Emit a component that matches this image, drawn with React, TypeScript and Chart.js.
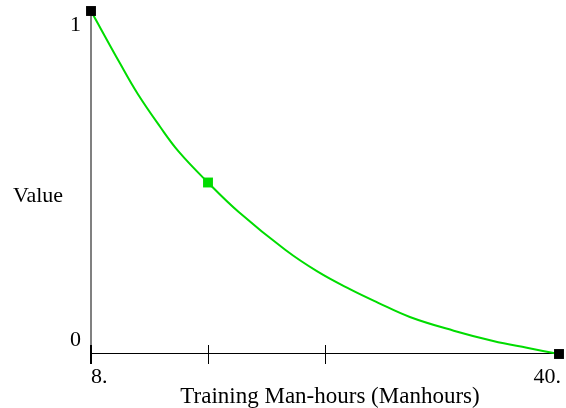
import React, { useEffect, useRef } from "react";
import { Chart, registerables } from "chart.js";

Chart.register(...registerables);

const curveX = [8, 10, 11.2, 12.7, 14, 16, 18.1, 21.3, 23.5, 25.7, 27.6, 29.8, 32.8, 35.5, 37.8, 40];
const curveY = [1, 0.846, 0.758, 0.664, 0.59, 0.5, 0.414, 0.303, 0.24, 0.189, 0.15, 0.108, 0.068, 0.038, 0.018, 0];

const markerX = [8, 16, 40];
const markerY = [1, 0.5, 0];
const markerColors = ["#000000", "#00dc00", "#000000"];

const xTickValues = [8, 16, 24];
const xLabelValues = [8, 40];
const xLabelTexts = ["8.", "40."];
const yLabelValues = [1, 0];
const yLabelTexts = ["1", "0"];

const xTitle = "Training Man-hours (Manhours)";
const yTitle = "Value";

const FONT = '22px "Liberation Serif", "DejaVu Serif", serif';
const TITLE_FONT = '23px "Liberation Serif", "DejaVu Serif", serif';

const axesPlugin = {
  id: "customAxes",
  beforeDatasetsDraw(chart: any) {
    const ctx = chart.ctx;
    const xs = chart.scales.x;
    const ys = chart.scales.y;
    const x0 = xs.getPixelForValue(8);
    const x1 = xs.getPixelForValue(40);
    const yTop = ys.getPixelForValue(1);
    const yBot = ys.getPixelForValue(0);
    ctx.save();
    ctx.strokeStyle = "#808080";
    ctx.lineWidth = 2;
    ctx.beginPath();
    ctx.moveTo(x0, yTop);
    ctx.lineTo(x0, yBot - 9);
    ctx.stroke();
    ctx.strokeStyle = "#000000";
    ctx.lineWidth = 1;
    ctx.beginPath();
    ctx.moveTo(x0, Math.round(yBot) - 0.5);
    ctx.lineTo(x1, Math.round(yBot) - 0.5);
    ctx.stroke();
    xTickValues.forEach((v, i) => {
      const px = xs.getPixelForValue(v);
      ctx.lineWidth = i === 0 ? 2 : 1;
      const xx = i === 0 ? px : Math.round(px) + 0.5;
      ctx.beginPath();
      ctx.moveTo(xx, yBot - 9);
      ctx.lineTo(xx, yBot + 10);
      ctx.stroke();
    });
    ctx.restore();
  },
  afterDraw(chart: any) {
    const ctx = chart.ctx;
    const xs = chart.scales.x;
    const ys = chart.scales.y;
    const left = chart.chartArea.left;
    const right = chart.chartArea.right;
    ctx.save();
    ctx.fillStyle = "#000000";
    ctx.font = FONT;
    ctx.textBaseline = "middle";
    ctx.textAlign = "right";
    yLabelValues.forEach((v, i) => {
      const py = ys.getPixelForValue(v) + (v === 1 ? 14 : -14);
      ctx.fillText(yLabelTexts[i], left - 10, py);
    });
    xLabelValues.forEach((v, i) => {
      const px = xs.getPixelForValue(v);
      ctx.textAlign = i === 0 ? "left" : "right";
      ctx.fillText(xLabelTexts[i], i === 0 ? px : px + 2, ys.getPixelForValue(0) + 23);
    });
    ctx.textAlign = "center";
    ctx.fillText(yTitle, 38, 196);
    ctx.font = TITLE_FONT;
    ctx.fillText(xTitle, (left + right) / 2 + 5, ys.getPixelForValue(0) + 43);
    ctx.restore();
  },
};

export default function App() {
  const ref = useRef<HTMLCanvasElement | null>(null);
  useEffect(() => {
    document.body.style.margin = "0";
    if (!ref.current) return;
    const chart = new Chart(ref.current, {
      type: "scatter",
      data: {
        datasets: [
          {
            type: "scatter",
            data: markerX.map((x, i) => ({ x, y: markerY[i] })),
            pointStyle: "rect",
            pointRadius: 7,
            pointBackgroundColor: markerColors,
            pointBorderColor: markerColors,
            pointBorderWidth: 0,
            clip: false,
            order: 0,
          } as any,
          {
            type: "line",
            data: curveX.map((x, i) => ({ x, y: curveY[i] })),
            borderColor: "#00dc00",
            borderWidth: 2,
            pointRadius: 0,
            tension: 0.4,
            fill: false,
            clip: false,
            order: 1,
          } as any,
        ],
      },
      options: {
        animation: false,
        responsive: false,
        layout: { padding: { left: 91, right: 3, top: 11, bottom: 54 } },
        plugins: { legend: { display: false }, tooltip: { enabled: false } },
        scales: {
          x: { type: "linear", min: 8, max: 40, display: false },
          y: { type: "linear", min: 0, max: 1, display: false },
        },
      },
      plugins: [axesPlugin],
    });
    if ((document as any).fonts && (document as any).fonts.load) {
      (document as any).fonts.load(FONT).then(() => chart.draw()).catch(() => {});
    }
    return () => chart.destroy();
  }, []);
  return (
    <div style={{ width: 566, height: 408, background: "#fff" }}>
      <canvas ref={ref} width={566} height={408} style={{ display: "block" }} />
    </div>
  );
}
